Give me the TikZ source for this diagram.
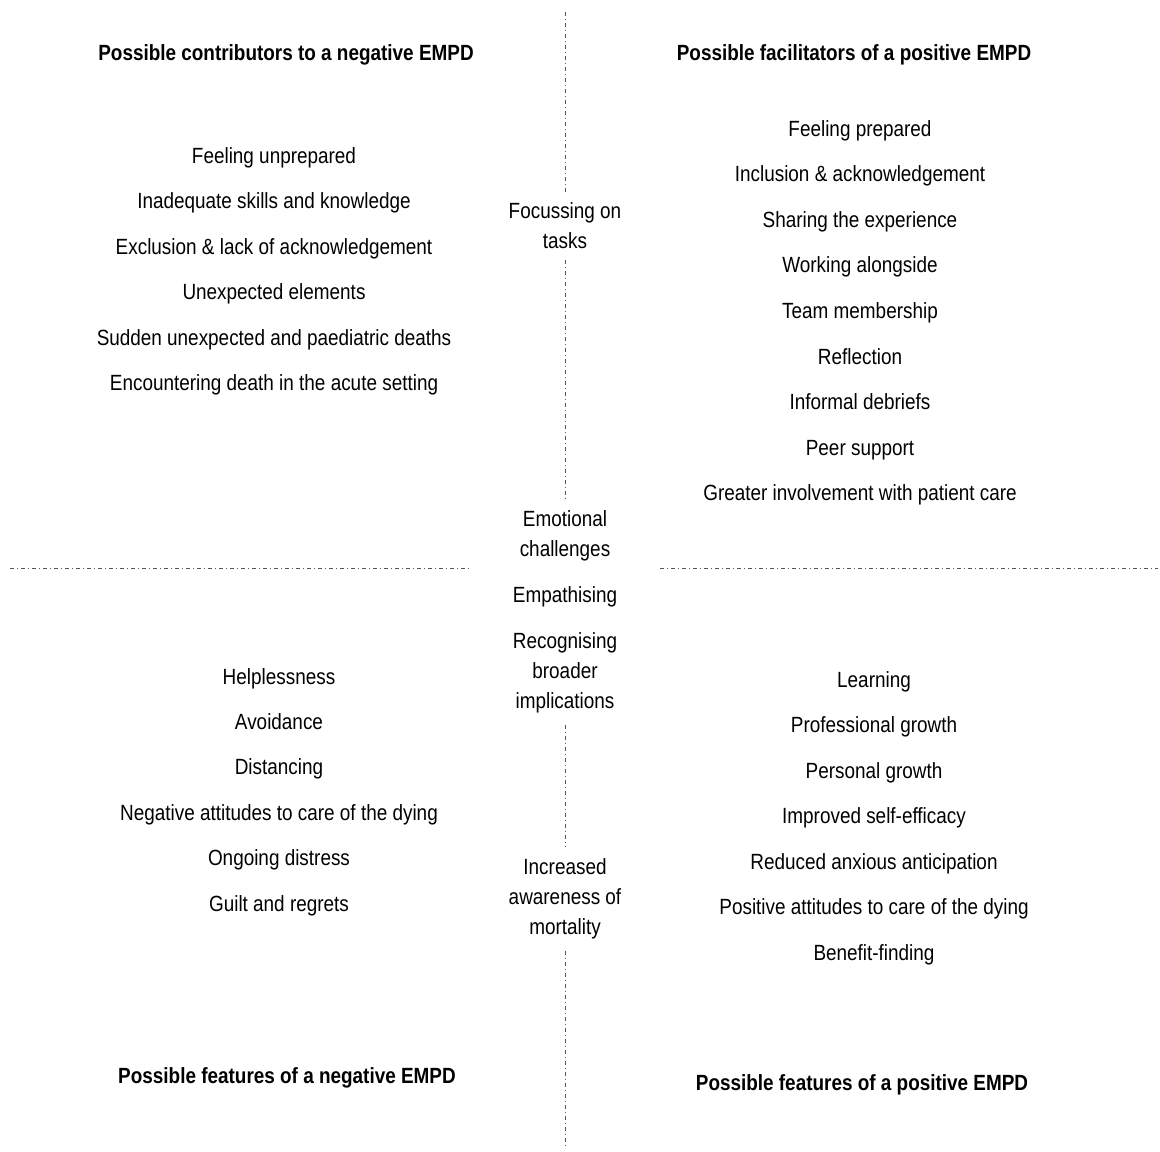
\documentclass[tikz,border=0pt]{standalone}
\usepackage{fontspec}
\setmainfont{Liberation Sans}[FakeStretch=0.86]
\usetikzlibrary{positioning}
\usepackage{xcolor}
\definecolor{Rule}{RGB}{85,85,85}
\newcommand{\hd}[1]{{\bfseries #1}}
\tikzset{
  item/.style={font=\fontsize{11}{15}\selectfont,inner sep=0pt,anchor=base},
  head/.style={item},
  mid/.style={font=\fontsize{11}{15}\selectfont,align=center,inner sep=5.5pt},
  divider/.style={Rule,line width=0.5pt,
                  dash pattern=on 2pt off 1.5pt on 0.5pt off 1.5pt},
}

\begin{document}
\begin{tikzpicture}[x=0.5pt,y=-0.5pt]
  \useasboundingbox (0,0) rectangle (1160,1151);
  % headings
  \node[head] (hcon) at (286,60)   {\hd{Possible contributors to a negative EMPD}};
  \node[head] (hfac) at (854,60)   {\hd{Possible facilitators of a positive EMPD}};
  \node[head] (hneg) at (287,1083) {\hd{Possible features of a negative EMPD}};
  \node[head] (hpos) at (862,1090) {\hd{Possible features of a positive EMPD}};
  % quadrant lists
  \foreach \txt [count=\i from 0] in {Feeling unprepared,
      Inadequate skills and knowledge,
      Exclusion \& lack of acknowledgement,
      Unexpected elements,
      Sudden unexpected and paediatric deaths,
      Encountering death in the acute setting}
    \node[item] (con\i) at (274,163+45.5*\i) {\txt};
  \foreach \txt [count=\i from 0] in {Feeling prepared,
      Inclusion \& acknowledgement,
      Sharing the experience,
      Working alongside,
      Team membership,
      Reflection,
      Informal debriefs,
      Peer support,
      Greater involvement with patient care}
    \node[item] (fac\i) at (860,136+45.6*\i) {\txt};
  \foreach \txt [count=\i from 0] in {Helplessness,
      Avoidance,
      Distancing,
      Negative attitudes to care of the dying,
      Ongoing distress,
      Guilt and regrets}
    \node[item] (neg\i) at (279,684+45.4*\i) {\txt};
  \foreach \txt [count=\i from 0] in {Learning,
      Professional growth,
      Personal growth,
      Improved self-efficacy,
      Reduced anxious anticipation,
      Positive attitudes to care of the dying,
      Benefit-finding}
    \node[item] (pos\i) at (874,687+45.5*\i) {\txt};
  % shared themes on the axis
  \node[mid] (focus) at (565,226) {Focussing on\\tasks};
  \node[mid] (emo)   at (565,536) {Emotional\\challenges};
  \node[mid] (emp)   at (565,597) {Empathising};
  \node[mid] (rec)   at (565,673) {Recognising\\broader\\implications};
  \node[mid] (inc)   at (565,899) {Increased\\awareness of\\mortality};
  % dividers
  \coordinate (vtop) at (565,12);
  \coordinate (vbot) at (565,1145);
  \coordinate (hl0) at (10,568);
  \coordinate (hl1) at (472,568);
  \coordinate (hr0) at (660,568);
  \coordinate (hr1) at (1158,568);
  \draw[divider] (vtop) -- (focus.north);
  \draw[divider] (focus.south) -- (emo.north);
  \draw[divider] (rec.south) -- (inc.north);
  \draw[divider] (inc.south) -- (vbot);
  \draw[divider] (hl0) -- (hl1);
  \draw[divider] (hr0) -- (hr1);
\end{tikzpicture}
\end{document}
